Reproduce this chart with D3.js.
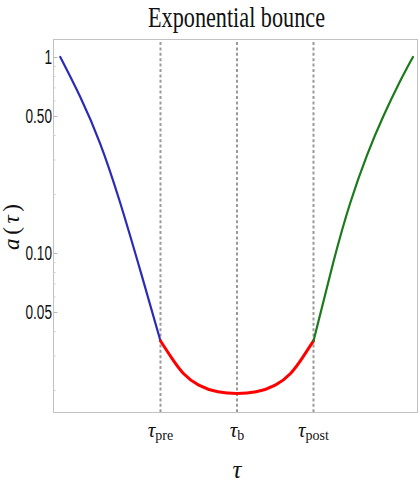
<!DOCTYPE html>
<html>
<head>
<meta charset="utf-8">
<script src="https://cdn.jsdelivr.net/npm/d3@7"></script>
<style>
  html, body { margin: 0; padding: 0; background: #fff; }
  svg { display: block; }
  .frame { fill: none; stroke: #c2c2c2; stroke-width: 1; }
  .marker { stroke: #9a9a9a; stroke-width: 2; stroke-dasharray: 3,2.4; }
  .ylab { font-family: "Liberation Sans", Arial, sans-serif; font-size: 20px; fill: #111; }
  .serif { font-family: "Liberation Serif", "DejaVu Serif", serif; fill: #111; }
</style>
</head>
<body>
<svg id="chart"></svg>
<script>
// tick values and labels
const yTickValues = [1, 0.5, 0.1, 0.05];
const yTickLabels = ["1", "0.50", "0.10", "0.05"];
const yMinorTicks = [0.9, 0.8, 0.7, 0.6, 0.4, 0.3, 0.2, 0.09, 0.08, 0.07, 0.06, 0.04, 0.03, 0.02];
const xTickValues = [-1, 0, 1];
const xTickSubs = ["pre", "b", "post"];

// contracting branch (before tau_pre)
const preTau = [-2.31, -2.05, -1.79, -1.53, -1.25, -1.0];
const preA = [1.0, 0.627, 0.363, 0.182, 0.078, 0.0356];
// bounce phase
const bounceTau = [-1.0, -0.85, -0.7, -0.5, -0.25, 0, 0.25, 0.5, 0.7, 0.85, 1.0];
const bounceA = [0.0356, 0.029, 0.0243, 0.0212, 0.0196, 0.0192, 0.0196, 0.0212, 0.0243, 0.029, 0.0356];
// expanding branch (after tau_post)
const postTau = [1.0, 1.26, 1.48, 1.7, 1.91, 2.13, 2.3];
const postA = [0.0356, 0.09, 0.18, 0.316, 0.496, 0.75, 1.0];

let w = 420, h = 491;
let plotLeft = 53, plotRight = 417, plotTop = 39, plotBottom = 412;

let svg = d3.select("#chart").attr("width", w).attr("height", h);

let xScale = d3.scaleLinear().domain([-2.405, 2.353]).range([plotLeft, plotRight]);
let yScale = d3.scaleLog().domain([0.01545, 1.2355]).range([plotBottom, plotTop]);

// frame
svg.append("rect")
    .attr("class", "frame")
    .attr("x", plotLeft + 0.5).attr("y", plotTop + 0.5)
    .attr("width", plotRight - plotLeft).attr("height", plotBottom - plotTop);

// y ticks, drawn inside the frame
let yAxis = d3.axisRight(yScale).tickValues(yTickValues).tickSize(4).tickFormat("");
svg.append("g")
    .attr("transform", "translate(" + (plotLeft + 0.5) + ",0)")
    .call(yAxis)
    .call(g => g.select(".domain").remove())
    .call(g => g.selectAll("line").attr("stroke", "#b8b8b8"));
let yMinor = d3.axisRight(yScale).tickValues(yMinorTicks).tickSize(2).tickFormat("");
svg.append("g")
    .attr("transform", "translate(" + (plotLeft + 0.5) + ",0)")
    .call(yMinor)
    .call(g => g.select(".domain").remove())
    .call(g => g.selectAll("line").attr("stroke", "#cccccc"));

// narrow tick labels
svg.selectAll(".ylab")
    .data(yTickValues)
    .enter()
    .append("text")
    .attr("class", "ylab")
    .attr("transform", d => "translate(" + (plotLeft - 1) + "," + yScale(d) + ") scale(0.68,1)")
    .attr("dy", "0.36em")
    .attr("text-anchor", "end")
    .text((d, i) => yTickLabels[i]);

// dashed markers at tau_pre, tau_b, tau_post
svg.selectAll(".marker")
    .data(xTickValues)
    .enter()
    .append("line")
    .attr("class", "marker")
    .attr("x1", d => xScale(d)).attr("x2", d => xScale(d))
    .attr("y1", plotTop + 3).attr("y2", plotBottom);

// curves
let line = d3.line()
    .x(d => xScale(d[0]))
    .y(d => yScale(d[1]))
    .curve(d3.curveNatural);

let segments = [
    { tau: preTau, a: preA, color: "#2b2bb8", width: 2.2 },
    { tau: bounceTau, a: bounceA, color: "#ff0000", width: 3 },
    { tau: postTau, a: postA, color: "#1b7a1b", width: 2.2 }
];
segments.forEach(s => {
    svg.append("path")
        .datum(d3.zip(s.tau, s.a))
        .attr("fill", "none")
        .attr("stroke", s.color)
        .attr("stroke-width", s.width)
        .attr("stroke-linecap", "round")
        .attr("d", line);
});

// x tick labels: tau with subscript
let xl = svg.selectAll(".xlab")
    .data(xTickValues)
    .enter()
    .append("text")
    .attr("class", "serif")
    .attr("x", d => xScale(d))
    .attr("y", 437)
    .attr("text-anchor", "middle");
xl.append("tspan").attr("font-style", "italic").attr("font-size", 21).text("τ");
xl.append("tspan").attr("font-size", 14).attr("dy", 3).text((d, i) => xTickSubs[i]);

// axis titles
svg.append("text")
    .attr("class", "serif")
    .attr("x", xScale(0))
    .attr("y", 478)
    .attr("text-anchor", "middle")
    .attr("font-style", "italic")
    .attr("font-size", 25)
    .text("τ");

let ylabel = svg.append("text")
    .attr("class", "serif")
    .attr("transform", "translate(19,227) rotate(-90)")
    .attr("text-anchor", "middle")
    .attr("font-size", 23)
    .attr("textLength", 46)
    .attr("lengthAdjust", "spacing");
ylabel.append("tspan").attr("font-style", "italic").text("a");
ylabel.append("tspan").text("(");
ylabel.append("tspan").attr("font-style", "italic").text("τ");
ylabel.append("tspan").text(")");

// title
svg.append("text")
    .attr("class", "serif")
    .attr("x", 236.5)
    .attr("y", 27)
    .attr("text-anchor", "middle")
    .attr("font-size", 29)
    .attr("textLength", 177)
    .attr("lengthAdjust", "spacingAndGlyphs")
    .text("Exponential bounce");
</script>
</body>
</html>
